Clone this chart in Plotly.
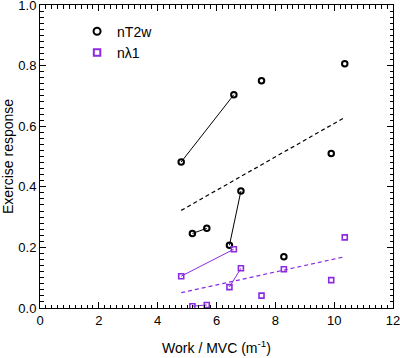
import numpy as np
import plotly.graph_objects as go

# Data
work_mvc = [4.80, 5.18, 5.67, 6.44, 6.59, 6.83, 7.53, 8.29, 9.90, 10.36]
nT2w = [0.482, 0.246, 0.263, 0.207, 0.704, 0.386, 0.750, 0.169, 0.510, 0.806]
nL1 = [0.105, 0.006, 0.010, 0.069, 0.194, 0.131, 0.041, 0.128, 0.092, 0.233]
pairs = [(0, 4), (1, 2), (3, 5)]
x_range = [0, 12]
y_range = [0, 1.00001]

BLACK = "#000000"
PURPLE = "#8a2be2"
FONT = "Liberation Sans, Arial, sans-serif"


def paired(xs, ys):
    px, py = [], []
    for a, b in pairs:
        px += [xs[a], xs[b], None]
        py += [ys[a], ys[b], None]
    return px, py


def fit(xs, ys):
    k, c = np.polyfit(xs, ys, 1)
    xr = [min(xs), max(xs)]
    return xr, [k * v + c for v in xr]


fig = go.Figure()

for ys, col in [(nT2w, BLACK), (nL1, PURPLE)]:
    px, py = paired(work_mvc, ys)
    fig.add_trace(go.Scatter(x=px, y=py, mode="lines", line=dict(color=col, width=1),
                             showlegend=False, hoverinfo="skip"))
    fx, fy = fit(work_mvc, ys)
    fig.add_trace(go.Scatter(x=fx, y=fy, mode="lines",
                             line=dict(color=col, width=1.2, dash="4px,3px"),
                             showlegend=False, hoverinfo="skip"))

fig.add_trace(go.Scatter(x=work_mvc, y=nT2w, mode="markers", name="nT2w",
                         showlegend=False,
                         marker=dict(symbol="circle-open", size=5.5, color=BLACK,
                                     line=dict(width=2, color=BLACK))))
fig.add_trace(go.Scatter(x=work_mvc, y=nL1, mode="markers", name="nλ1",
                         showlegend=False,
                         marker=dict(symbol="square-open", size=5, color=PURPLE,
                                     line=dict(width=1.6, color=PURPLE))))

# legend entries (slightly larger symbols, as in the reference key)
fig.add_trace(go.Scatter(x=[None], y=[None], mode="markers", name="nT2w",
                         marker=dict(symbol="circle-open", size=7, color=BLACK,
                                     line=dict(width=2, color=BLACK))))
fig.add_trace(go.Scatter(x=[None], y=[None], mode="markers", name="nλ1",
                         marker=dict(symbol="square-open", size=6.5, color=PURPLE,
                                     line=dict(width=2, color=PURPLE))))

# invisible trace so the mirrored (top/right) axes are drawn
fig.add_trace(go.Scatter(x=[0.5], y=[0.5], xaxis="x2", yaxis="y2", mode="markers",
                         marker=dict(opacity=0), showlegend=False, hoverinfo="skip"))

tick_common = dict(
    ticks="inside", ticklen=6, tickwidth=1, tickcolor=BLACK,
    showgrid=False, zeroline=False, automargin=False, ticklabeloverflow="allow",
    tickfont=dict(family=FONT, size=13, color=BLACK),
)

xminor = dict(dtick=0.2, ticks="inside", ticklen=3.5, tickcolor=BLACK, showgrid=False)
yminor = dict(dtick=0.02, ticks="inside", ticklen=3.5, tickcolor=BLACK, showgrid=False)

fig.update_layout(
    xaxis=dict(range=x_range, dtick=2, tick0=0, minor=xminor,
               showline=True, linecolor=BLACK, linewidth=1,
               title=dict(text="Work / MVC (m<sup>-1</sup>)",
                          font=dict(family=FONT, size=14, color=BLACK), standoff=16),
               **tick_common),
    yaxis=dict(range=y_range, dtick=0.2, tick0=0, tickformat=".1f", minor=yminor,
               showline=True, linecolor=BLACK, linewidth=1,
               title=dict(text="Exercise response",
                          font=dict(family=FONT, size=14, color=BLACK), standoff=4),
               **tick_common),
    xaxis2=dict(range=x_range, dtick=2, tick0=0, minor=xminor, overlaying="x",
                side="top", showticklabels=False, showline=True, linecolor=BLACK,
                linewidth=1, **tick_common),
    yaxis2=dict(range=y_range, dtick=0.2, tick0=0, minor=yminor, overlaying="y",
                side="right", showticklabels=False, showline=True, linecolor=BLACK,
                linewidth=1, **tick_common),
    width=400, height=358,
    margin=dict(l=40, r=7, t=5, b=50),
    paper_bgcolor="white", plot_bgcolor="white",
    font=dict(family=FONT, size=13, color=BLACK),
    legend=dict(x=0.105, y=0.965, xanchor="left", yanchor="top",
                bgcolor="rgba(0,0,0,0)", font=dict(family=FONT, size=14, color=BLACK),
                tracegroupgap=0, itemwidth=30),
)

fig.write_html("out.html", config={"displayModeBar": False},
               post_script="document.body.style.margin='0';document.body.style.overflow='hidden';")
